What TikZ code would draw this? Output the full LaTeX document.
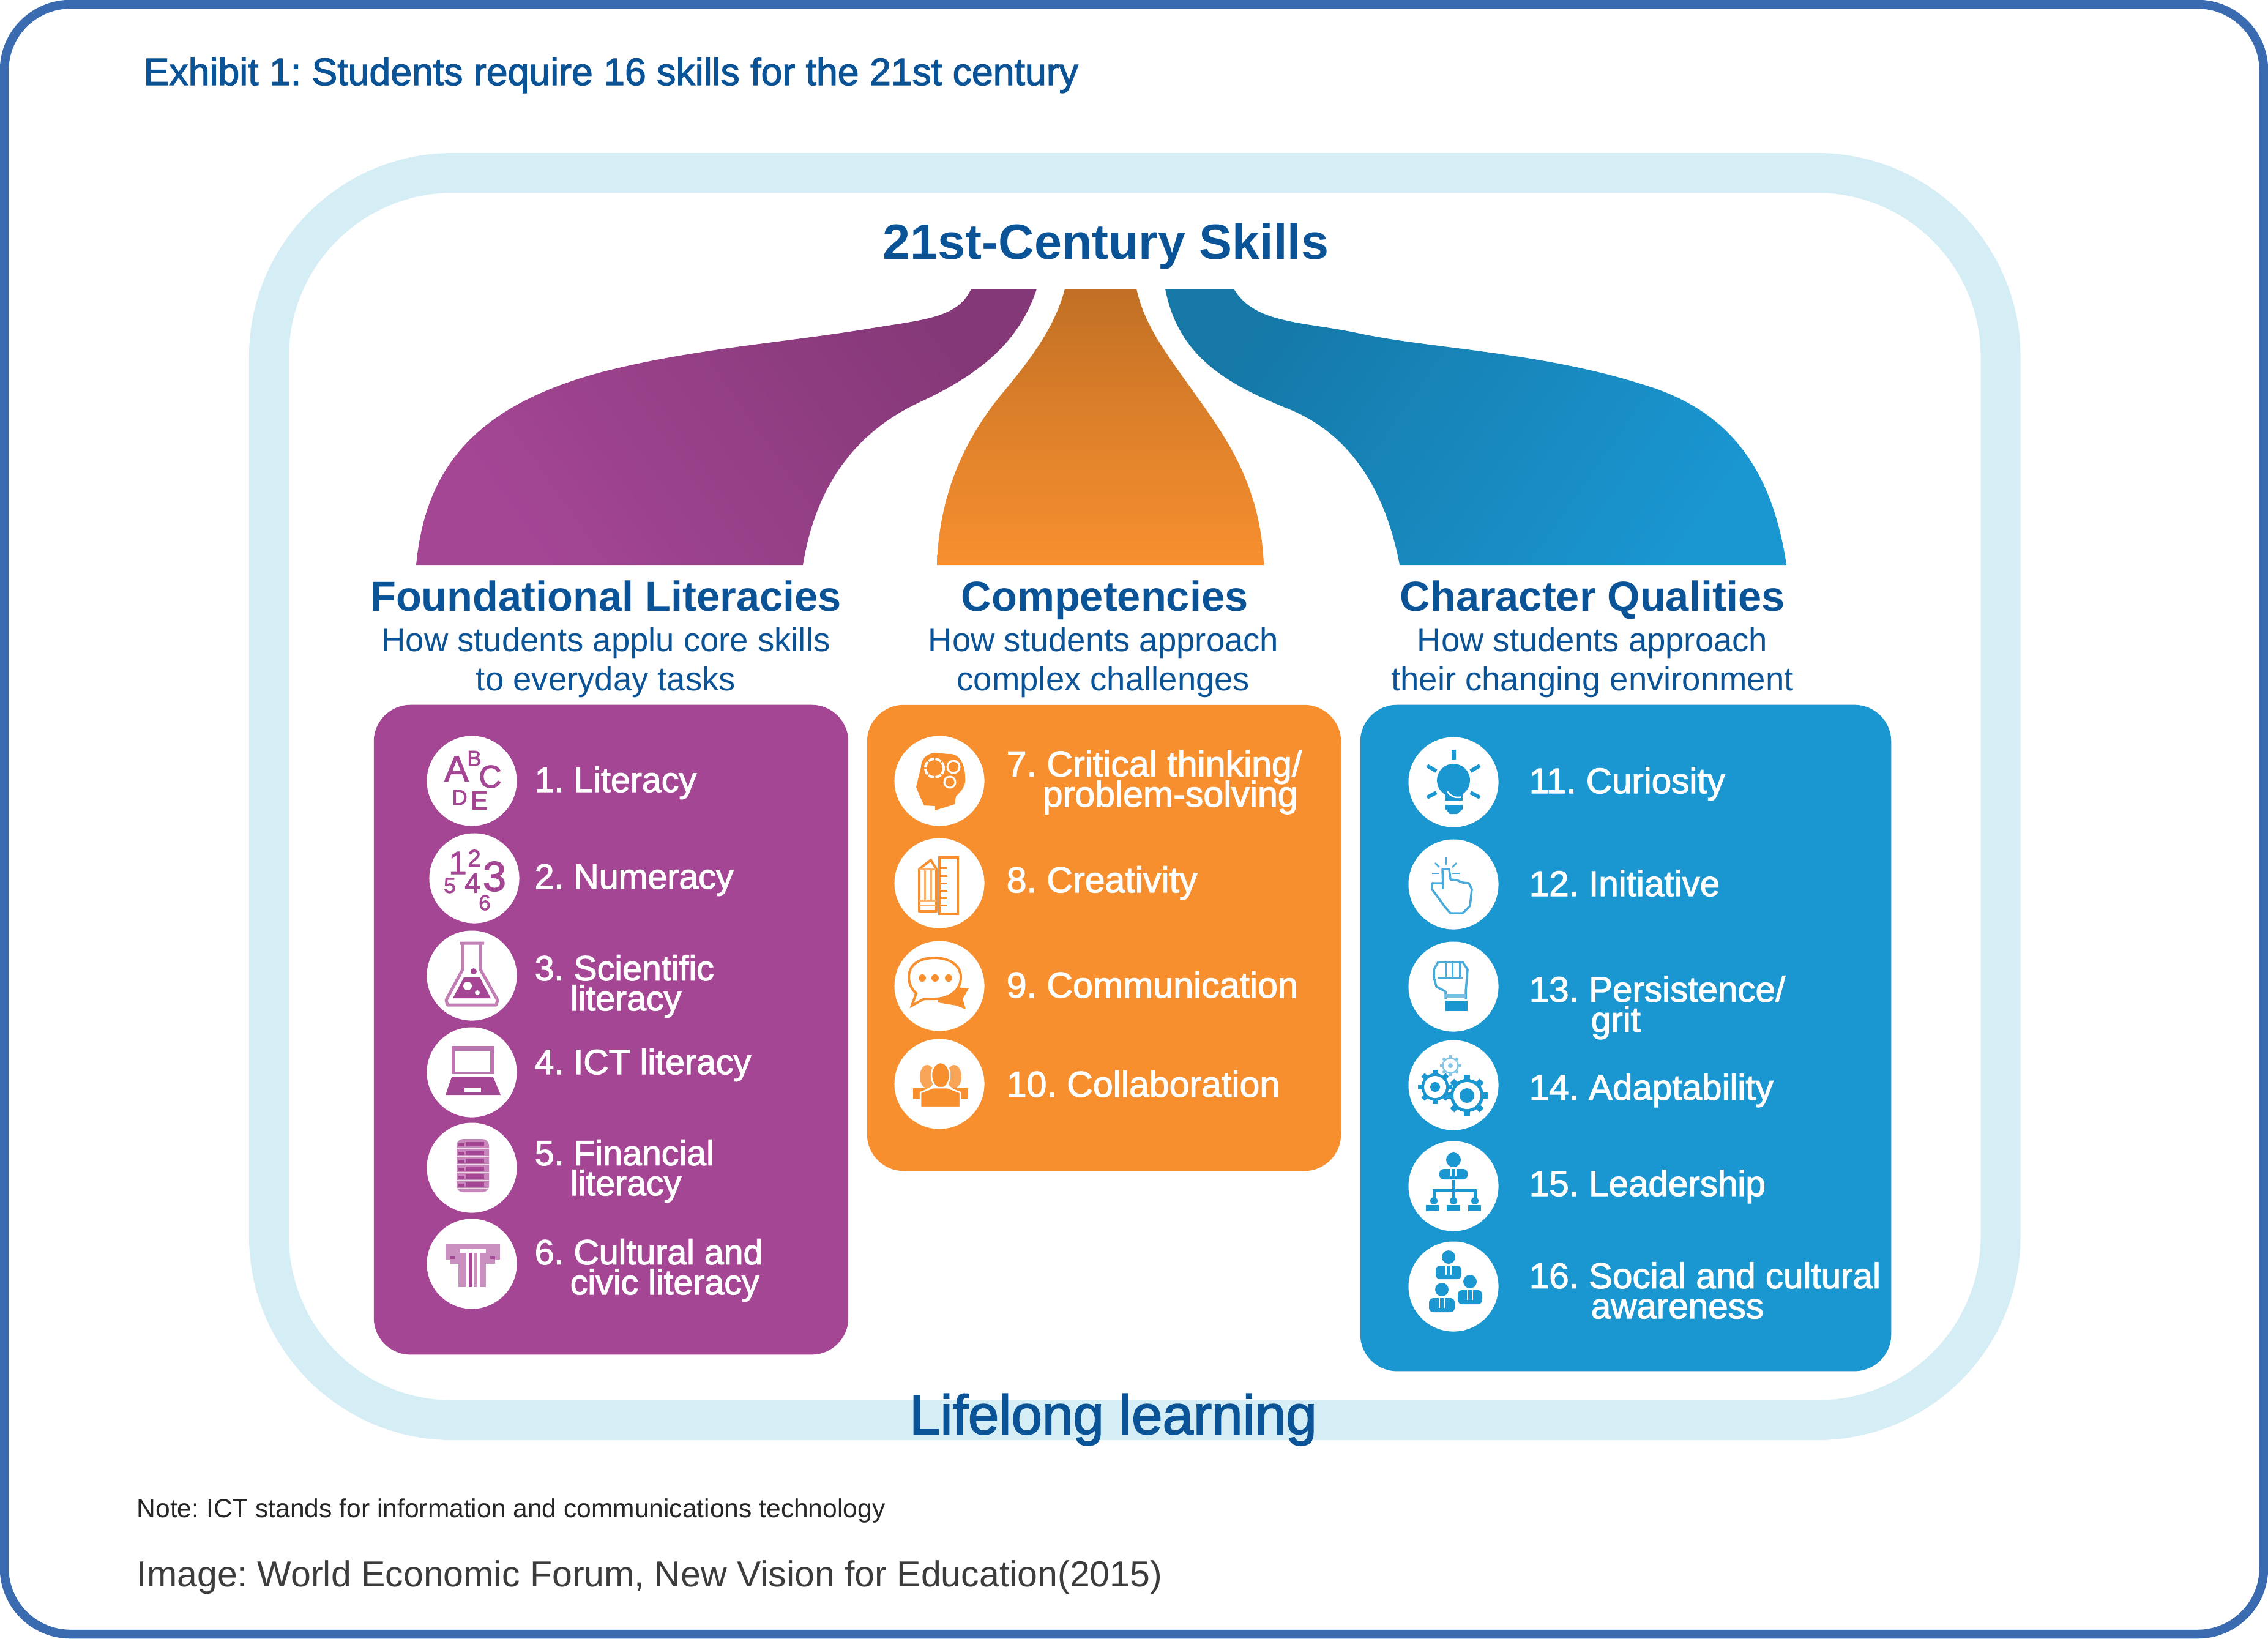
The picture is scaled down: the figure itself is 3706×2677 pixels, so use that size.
\documentclass[tikz,border=0pt]{standalone}
\usepackage{fontspec}
\setmainfont{Liberation Sans}
\newfontfamily\medfont[FakeBold=2]{Liberation Sans}
\usetikzlibrary{calc, positioning}
\definecolor{frameblue}{HTML}{3A6AB0}
\definecolor{ringblue}{HTML}{D5EDF5}
\definecolor{headblue}{HTML}{0B5397}
\definecolor{purplecard}{HTML}{A54695}
\definecolor{orangecard}{HTML}{F78F2F}
\definecolor{bluecard}{HTML}{1A96D1}
\definecolor{notegray}{HTML}{3C3C3C}

\newcommand{\gearglyph}[6]{%
  \foreach \a in {0,45,...,315} \draw[#6, line width={0.0028cm*#3}] (#1,#2) -- ++(\a:#3);
  \fill[#6] (#1,#2) circle ({0.8*#3});
  \fill[white] (#1,#2) circle (#4);
  \fill[#6] (#1,#2) circle (#5);
}
\newcommand{\personglyph}[5]{%
  \fill[bluecard] (#1,#2) circle (#3);
  \fill[bluecard, rounded corners=2pt] ($(#1,#2)+(-#4,#3+3)$) rectangle ($(#1,#2)+(#4,#3+3+#5)$);
  \draw[white, line width=0.025cm] ($(#1,#2)+(-4,#3+3)$) -- ++(0,#5*0.7);
  \draw[white, line width=0.025cm] ($(#1,#2)+(4,#3+3)$) -- ++(0,#5*0.7);
}

\begin{document}
\frenchspacing
\lineskiplimit=-20pt
\begin{tikzpicture}[
    x=0.01cm, y=-0.01cm,
    card/.style={rounded corners=0.6cm, inner sep=0},
    iconbg/.style={circle, fill=white, minimum size=1.47cm, inner sep=0},
    skill/.style={anchor=base west, align=left, text=white, inner sep=0,
                  font=\medfont\fontsize{16.8}{14}\selectfont},
    litskill/.style={skill, font=\medfont\fontsize{16.3}{14}\selectfont},
    charskill/.style={skill, font=\medfont\fontsize{16.6}{14}\selectfont},
    grouphead/.style={anchor=base, inner sep=0, text=headblue,
                      font=\bfseries\fontsize{19.5}{19.5}\selectfont},
    groupsub/.style={anchor=base, align=center, inner sep=0, text=headblue,
                     font=\fontsize{15.5}{18.2}\selectfont},
    glyph/.style={inner sep=0, font=\medfont},
    purpline/.style={draw=purplecard, line width=0.05cm},
    orline/.style={draw=orangecard, line width=0.04cm},
    blline/.style={draw=bluecard!80, line width=0.035cm}
  ]
    \useasboundingbox (0,0) rectangle (3706,2677);
    \fill[white] (0,0) rectangle (3706,2677);
    \draw[frameblue, line width=0.145cm, rounded corners=1.08cm] (7,7) rectangle (3699,2670);
    \draw[ringblue, line width=0.65cm, rounded corners=3cm] (439.5,282.5) rectangle (3269,2320.5);

    \node[anchor=base west, inner sep=0, text=headblue, font=\medfont\fontsize{17.8}{17.8}\selectfont]
      (exhibit) at (234,139) {Exhibit 1: Students require 16 skills for the 21st century};
    \node[anchor=base, inner sep=0, text=headblue, font=\bfseries\fontsize{23}{23}\selectfont]
      (skillstitle) at (1807,423) {21st-Century Skills};

    \shade[left color=purplecard, right color=purplecard!80!black, shading angle=125]
      (680,923) .. controls (695,770) and (770,665) .. (983,608) .. controls (1130,570) and (1280,560) .. (1420,537)
      .. controls (1510,522) and (1565,520) .. (1587,472) -- (1694,472)
      .. controls (1665,560) and (1600,612) .. (1503,657) .. controls (1410,700) and (1335,780) .. (1312,923) -- cycle;
    \shade[top color=orangecard!78!black, bottom color=orangecard, middle color=orangecard!90!black]
      (1531,923) .. controls (1535,790) and (1590,700) .. (1640,640) .. controls (1690,580) and (1725,530) .. (1740,472) -- (1857,472)
      .. controls (1870,530) and (1900,570) .. (1950,640) .. controls (2000,710) and (2060,790) .. (2065,923) -- cycle;
    \shade[left color=bluecard!80!black, right color=bluecard, shading angle=55]
      (2287,923) .. controls (2260,780) and (2190,700) .. (2100,666) .. controls (2000,625) and (1925,580) .. (1904,472) -- (2016,472)
      .. controls (2050,530) and (2130,525) .. (2222,545) .. controls (2340,570) and (2520,575) .. (2690,630)
      .. controls (2820,670) and (2895,760) .. (2919,923) -- cycle;

    \node[grouphead] (lithead)  at (990,998)  {Foundational Literacies};
    \node[grouphead] (comphead) at (1805,998) {Competencies};
    \node[grouphead] (charhead) at (2602,998) {Character Qualities};
    \node[groupsub] (litsub)  at (990,1128)  {How students applu core skills\\to everyday tasks};
    \node[groupsub] (compsub) at (1803,1128) {How students approach\\complex challenges};
    \node[groupsub] (charsub) at (2602,1128) {How students approach\\their changing environment};

    \node[card, fill=purplecard, minimum width=7.75cm, minimum height=10.61cm] (litcard)  at (998.5,1682.5) {};
    \node[card, fill=orangecard, minimum width=7.74cm, minimum height=7.61cm]  (compcard) at (1804,1532.5) {};
    \node[card, fill=bluecard,   minimum width=8.67cm, minimum height=10.88cm] (charcard) at (2656.5,1696) {};

    \node[iconbg] (i1) at (771,1276) {};
    \node[iconbg] (i2) at (775,1435) {};
    \node[iconbg] (i3) at (771,1594) {};
    \node[iconbg] (i4) at (771,1752) {};
    \node[iconbg] (i5) at (771,1908) {};
    \node[iconbg] (i6) at (771,2065) {};
    \node[iconbg] (i7)  at (1535,1276) {};
    \node[iconbg] (i8)  at (1535,1443) {};
    \node[iconbg] (i9)  at (1535,1611) {};
    \node[iconbg] (i10) at (1535,1771) {};
    \node[iconbg] (i11) at (2375,1278) {};
    \node[iconbg] (i12) at (2375,1445) {};
    \node[iconbg] (i13) at (2375,1612) {};
    \node[iconbg] (i14) at (2375,1773) {};
    \node[iconbg] (i15) at (2375,1938) {};
    \node[iconbg] (i16) at (2375,2102) {};

    \begin{scope}[shift={(i1.center)}, glyph/.append style={text=purplecard}]
      \node[glyph, font=\medfont\fontsize{16.7}{16.7}\selectfont] (la) at (-25,-20) {A};
      \node[glyph, font=\medfont\fontsize{10}{10}\selectfont]     (lb) at (4,-37)   {B};
      \node[glyph, font=\medfont\fontsize{14.7}{14.7}\selectfont] (lc) at (30,-7)   {C};
      \node[glyph, font=\medfont\fontsize{10}{10}\selectfont]     (ld) at (-20,27)  {D};
      \node[glyph, font=\medfont\fontsize{12}{12}\selectfont]     (le) at (12,32)   {E};
    \end{scope}
    \begin{scope}[shift={(i2.center)}, glyph/.append style={text=purplecard}]
      \node[glyph, font=\medfont\fontsize{15}{15}\selectfont]   (n1) at (-27,-25) {1};
      \node[glyph, font=\medfont\fontsize{11}{11}\selectfont]   (n2) at (0,-33)   {2};
      \node[glyph, font=\medfont\fontsize{19.5}{19.5}\selectfont] (n3) at (33,-3) {3};
      \node[glyph, font=\medfont\fontsize{10}{10}\selectfont]   (n5) at (-40,12)  {5};
      \node[glyph, font=\medfont\fontsize{13}{13}\selectfont]   (n4) at (-3,8)    {4};
      \node[glyph, font=\medfont\fontsize{10}{10}\selectfont]   (n6) at (17,40)   {6};
    \end{scope}
    \begin{scope}[shift={(i3.center)}]
      \draw[purpline, draw=purplecard!70, line join=round]
        (-20,-53) -- (20,-53) (-15,-53) -- (-15,-10) -- (-42,40) -- (-40,48) -- (40,48) -- (42,40) -- (14,-10) -- (14,-53);
      \fill[purplecard] (-13,3) -- (13,3) -- (31,37) -- (-31,37) -- cycle;
      \fill[purplecard] (3,-7) circle (5);
      \fill[white] (-7,17) circle (7);
      \fill[white] (9,28) circle (4);
    \end{scope}
    \begin{scope}[shift={(i4.center)}]
      \fill[purplecard!75] (-33,-43) rectangle (37,3);
      \fill[white] (-27,-35) rectangle (30,0);
      \fill[purplecard] (-33,8) -- (35,8) -- (47,37) -- (-43,37) -- cycle;
      \fill[white] (-12,25) rectangle (15,32);
    \end{scope}
    \begin{scope}[shift={(i5.center)}]
      \fill[purplecard!65, rounded corners=3pt] (-25,-47) rectangle (28,40);
      \foreach \y in {-42,-28,-15,-2,11,24} {
        \fill[purplecard] (-10,\y) rectangle (20,\y+7);
        \fill[purplecard] (-22,\y+2) rectangle (-12,\y+7);
        \draw[white, line width=0.02cm, opacity=0.7] (-25,\y+10) -- (28,\y+10);
      }
    \end{scope}
    \begin{scope}[shift={(i6.center)}]
      \fill[purplecard!60] (-43,-33) rectangle (46,-25);
      \fill[purplecard!60] (-43,-25) rectangle (-20,-7);
      \fill[purplecard!60] (-35,-7) rectangle (-20,0);
      \fill[purplecard!60] (23,-25) rectangle (46,-7);
      \fill[purplecard!60] (23,-7) rectangle (38,0);
      \fill[white] (-12,-23) rectangle (16,-18);
      \fill[purplecard] (-35,-12) rectangle (-27,-8);
      \fill[purplecard] (30,-12) rectangle (38,-8);
      \fill[purplecard!60] (-22,-18) rectangle (23,38);
      \fill[white] (-10,-18) rectangle (-5,38);
      \fill[purplecard] (-5,-18) rectangle (0,38);
      \fill[white] (0,-18) rectangle (3,38);
      \fill[white] (8,-18) rectangle (13,38);
    \end{scope}

    \begin{scope}[shift={(i7.center)}]
      \fill[orangecard] (-8,-46) .. controls (-22,-44) and (-30,-35) .. (-30,-23) -- (-38,10) -- (-32,25) -- (-25,40) -- (-7,41) -- (-7,48) -- (25,38) -- (27,25)
        .. controls (38,15) and (44,5) .. (42,-6) .. controls (42,-30) and (30,-46) .. (15,-44) -- cycle;
      \draw[white, line width=0.04cm, dash pattern=on 0.1cm off 0.02cm] (-8,-21) circle (15);
      \draw[white, line width=0.03cm] (23,-23) circle (10);
      \draw[white, line width=0.03cm] (17,2) circle (9);
    \end{scope}
    \begin{scope}[shift={(i8.center)}]
      \draw[orline, line join=round] (-33,-23) -- (-14,-38) -- (-5,-23) -- (-5,46) -- (-33,46) -- cycle;
      \draw[orline, draw=orangecard!70, line width=0.03cm] (-33,-23) -- (-5,-23) (-24,-23) -- (-24,28) (-14,-23) -- (-14,28) (-33,28) -- (-5,28) (-33,36) -- (-5,36);
      \draw[orline] (0,-42) rectangle (30,50);
      \foreach \y in {-25,-12,0,12,24,36} \draw[orline, line width=0.03cm] (0,\y) -- (13,\y);
    \end{scope}
    \begin{scope}[shift={(i9.center)}]
      \fill[orangecard] (-2,21) -- (30,2) -- (48,4) -- (38,21) -- (43,38) -- (28,32) -- (-2,27) -- cycle;
      \draw[orline, fill=white] (-50,-14) .. controls (-50,-40) and (-25,-46) .. (-8,-46) .. controls (15,-46) and (35,-35) .. (35,-14)
        .. controls (35,8) and (15,21) .. (-8,21) -- (-25,21) -- (-45,32) -- (-38,12) .. controls (-46,5) and (-50,-5) .. (-50,-14) -- cycle;
      \fill[orangecard] (-28,-13) circle (6);
      \fill[orangecard] (-7,-13) circle (6);
      \fill[orangecard] (15,-13) circle (6);
    \end{scope}
    \begin{scope}[shift={(i10.center)}]
      \fill[orangecard!80] (-20,-12) ellipse (12 and 19);
      \fill[orangecard!80] (24,-12) ellipse (12 and 19);
      \fill[orangecard] (-43,7) rectangle (-20,25);
      \fill[orangecard] (22,7) rectangle (47,25);
      \draw[white, line width=0.025cm, fill=orangecard] (2,-14) ellipse (15 and 21);
      \draw[white, line width=0.025cm, fill=orangecard] (-31,38) -- (-31,14) -- (-10,6) -- (13,6) -- (34,14) -- (34,38) -- cycle;
    \end{scope}

    \begin{scope}[shift={(i11.center)}]
      \fill[bluecard] (0,-3) circle (27);
      \fill[bluecard] (-14,14) rectangle (15,30);
      \draw[white, line width=0.025cm] (-10,15) arc[start angle=-210, end angle=-285, radius=20];
      \fill[bluecard] (-13,37) -- (15,37) -- (15,44) -- (6,52) -- (-6,52) -- (-13,44) -- cycle;
      \draw[bluecard, line width=0.07cm] (0,-53) -- (0,-37);
      \draw[bluecard, line width=0.06cm] (-43,-27) -- (-28,-18);
      \draw[bluecard, line width=0.06cm] (43,-27) -- (28,-18);
      \draw[bluecard, line width=0.06cm] (-43,25) -- (-28,17);
      \draw[bluecard, line width=0.06cm] (43,25) -- (28,17);
    \end{scope}
    \begin{scope}[shift={(i12.center)}]
      \draw[blline, line join=round] (-17,8) -- (-18,-25) -- (-7,-25) -- (-5,-8) -- (5,-7) -- (15,-3) -- (25,-2) -- (30,8) -- (27,35) -- (15,47) -- (-5,47) -- (-13,38) -- (-35,8) -- (-35,-2) -- (-17,-2);
      \draw[blline, line width=0.025cm] (-12,-45) -- (-12,-32);
      \draw[blline, line width=0.025cm] (-30,-35) -- (-23,-28);
      \draw[blline, line width=0.025cm] (5,-35) -- (-2,-28);
      \draw[blline, line width=0.025cm] (-35,-18) -- (-23,-18);
      \draw[blline, line width=0.025cm] (-2,-18) -- (10,-18);
    \end{scope}
    \begin{scope}[shift={(i13.center)}]
      \draw[blline, line join=round] (-13,20) -- (-13,8) -- (-28,0) -- (-32,-15) -- (-32,-28) -- (-25,-40) -- (15,-40) -- (23,-28) -- (20,8) -- (20,20);
      \draw[blline, line width=0.03cm] (-13,-40) -- (-13,-15) (-2,-40) -- (-2,-15) (10,-40) -- (10,-15) (-25,-15) -- (15,-15);
      \fill[bluecard!60] (-13,12) rectangle (20,18);
      \fill[bluecard] (-13,23) rectangle (23,40);
    \end{scope}
    \begin{scope}[shift={(i14.center)}]
      \gearglyph{-5}{-32}{17}{11}{4}{bluecard!55}
      \gearglyph{-30}{3}{28}{18}{8}{bluecard}
      \gearglyph{22}{17}{34}{22}{12}{bluecard}
    \end{scope}
    \begin{scope}[shift={(i15.center)}]
      \personglyph{0}{-43}{12}{23}{17}
      \draw[bluecard, line width=0.05cm] (0,-10) -- (0,15);
      \draw[bluecard, line width=0.05cm] (-32,20) -- (-32,7) -- (35,7) -- (35,20);
      \draw[bluecard, line width=0.05cm] (0,15) -- (0,20);
      \fill[bluecard] (-32,24) circle (6);
      \fill[bluecard] (0,24) circle (6);
      \fill[bluecard] (35,24) circle (6);
      \fill[bluecard] (-45,31) rectangle (-24,41);
      \fill[bluecard] (-11,31) rectangle (11,41);
      \fill[bluecard] (24,31) rectangle (45,41);
    \end{scope}
    \begin{scope}[shift={(i16.center)}]
      \personglyph{-8}{-48}{11}{21}{22}
      \personglyph{27}{-8}{11}{20}{23}
      \personglyph{-19}{5}{11}{21}{23}
    \end{scope}

    \node[litskill] (s1) at (873,1294) {1. Literacy};
    \node[litskill] (s2) at (873,1452) {2. Numeracy};
    \node[litskill] (s3) at (873,1651) {3. Scientific\\\hspace*{0.58cm}literacy};
    \node[litskill] (s4) at (873,1755) {4. ICT literacy};
    \node[litskill] (s5) at (873,1953) {5. Financial\\\hspace*{0.58cm}literacy};
    \node[litskill] (s6) at (873,2115) {6. Cultural and\\\hspace*{0.58cm}civic literacy};
    \node[skill] (s7)  at (1644,1318) {7. Critical thinking/\\\hspace*{0.59cm}problem-solving};
    \node[skill] (s8)  at (1644,1458) {8. Creativity};
    \node[skill] (s9)  at (1644,1630) {9. Communication};
    \node[skill] (s10) at (1644,1792) {10. Collaboration};
    \node[charskill] (s11) at (2498,1296) {11. Curiosity};
    \node[charskill] (s12) at (2498,1464) {12. Initiative};
    \node[charskill] (s13) at (2498,1686) {13. Persistence/\\\hspace*{1.01cm}grit};
    \node[charskill] (s14) at (2498,1797) {14. Adaptability};
    \node[charskill] (s15) at (2498,1954) {15. Leadership};
    \node[charskill] (s16) at (2498,2154) {16. Social and cultural\\\hspace*{1.01cm}awareness};

    \node[anchor=base, inner sep=0, text=headblue, font=\medfont\fontsize{25.8}{25.8}\selectfont]
      (lifelong) at (1819,2343) {Lifelong learning};
    \node[anchor=base west, inner sep=0, text=black!85, font=\fontsize{12.1}{12.1}\selectfont]
      (note) at (223,2479) {Note: ICT stands for information and communications technology};
    \node[anchor=base west, inner sep=0, text=notegray, font=\fontsize{16.8}{16.8}\selectfont]
      (credit) at (223,2592) {Image: World Economic Forum, New Vision for Education(2015)};
\end{tikzpicture}
\end{document}
